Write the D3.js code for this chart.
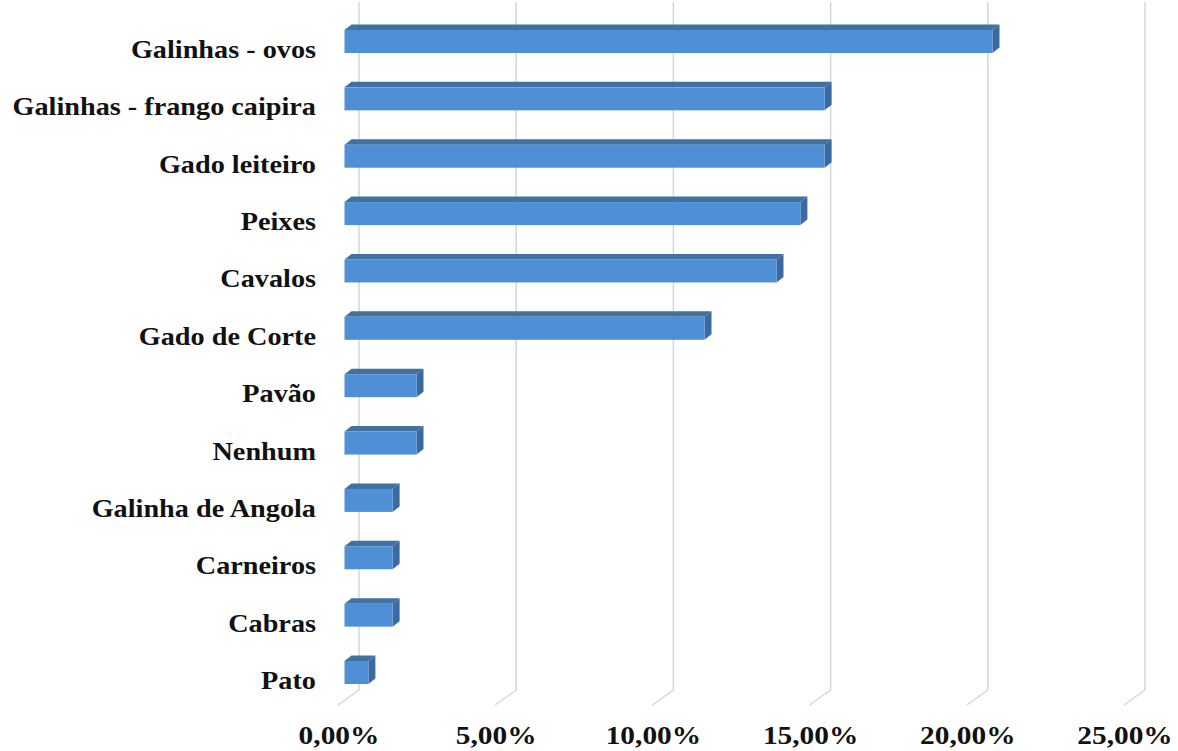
<!DOCTYPE html>
<html>
<head>
<meta charset="utf-8">
<script src="https://cdn.jsdelivr.net/npm/d3@7"></script>
<style>
  body { margin: 0; background: #fff; }
  .g-cat { font-family: "Liberation Serif", "Times New Roman", serif; font-weight: bold; font-size: 25px; fill: #111; }
  .g-tick { font-family: "Liberation Serif", "Times New Roman", serif; font-weight: bold; font-size: 26px; fill: #111; }
</style>
</head>
<body>
<div class="g-chart"></div>
<script>
//Local data
var categories = ["Galinhas - ovos", "Galinhas - frango caipira", "Gado leiteiro", "Peixes", "Cavalos",
                  "Gado de Corte", "Pavão", "Nenhum", "Galinha de Angola", "Carneiros", "Cabras", "Pato"];
var values = [20.61, 15.27, 15.27, 14.50, 13.74, 11.45, 2.29, 2.29, 1.53, 1.53, 1.53, 0.76];
var tickValues = [0, 5, 10, 15, 20, 25];

var width = 1178,
    height = 751;

//3d offsets (floor depth and bar depth)
var floorDx = 21, floorDy = 15;
var barFront = 6.5, barDx = 7, barDy = 5.5;
var barHeight = 23;
var stretch = 1.13;

var svg = d3.select(".g-chart").append("svg")
  .attr("width", width)
  .attr("height", height);

//xScale sits on the front edge of the floor
var xScale = d3.scaleLinear()
  .domain([0, 25])
  .range([338, 1124]);

//yScale gives the top of each bar's front face
var yScale = d3.scalePoint()
  .domain(categories)
  .range([30, 661]);

//Back wall gridlines
svg.selectAll(".g-grid")
  .data(tickValues)
  .enter()
  .append("line")
  .attr("class", "g-grid")
  .attr("x1", function(d) { return xScale(d) + floorDx; })
  .attr("x2", function(d) { return xScale(d) + floorDx; })
  .attr("y1", 2)
  .attr("y2", 690)
  .attr("stroke", "#d6d6d6")
  .attr("stroke-width", 1.5);

//Floor lines
svg.selectAll(".g-floor")
  .data(tickValues)
  .enter()
  .append("line")
  .attr("class", "g-floor")
  .attr("x1", function(d) { return xScale(d) + floorDx; })
  .attr("x2", function(d) { return xScale(d); })
  .attr("y1", 690)
  .attr("y2", 690 + floorDy)
  .attr("stroke", "#d6d6d6")
  .attr("stroke-width", 1.5);

var data = categories.map(function(c, i) { return {category: c, num: values[i]}; });

//Bars
var barGroup = svg.selectAll(".g-bar")
  .data(data)
  .enter()
  .append("g")
  .attr("class", "g-bar");

function pts(arr) { return arr.map(function(p) { return p.join(","); }).join(" "); }

//Top face
barGroup.append("polygon")
  .attr("points", function(d) {
    var xl = xScale(0) + barFront, xr = xScale(d.num) + barFront, yt = yScale(d.category);
    return pts([[xl, yt], [xr, yt], [xr + barDx, yt - barDy], [xl + barDx, yt - barDy]]);
  })
  .attr("fill", "#41719f");

//Right face
barGroup.append("polygon")
  .attr("points", function(d) {
    var xr = xScale(d.num) + barFront, yt = yScale(d.category);
    return pts([[xr, yt], [xr + barDx, yt - barDy], [xr + barDx, yt + barHeight - barDy], [xr, yt + barHeight]]);
  })
  .attr("fill", "#3b6aa0");

//Front face
barGroup.append("rect")
  .attr("x", xScale(0) + barFront)
  .attr("y", function(d) { return yScale(d.category); })
  .attr("width", function(d) { return xScale(d.num) - xScale(0); })
  .attr("height", barHeight)
  .attr("fill", "#4f8fd5");

//Category labels
svg.selectAll(".g-cat")
  .data(categories)
  .enter()
  .append("text")
  .attr("class", "g-cat")
  .attr("text-anchor", "end")
  .attr("transform", function(d) {
    return "translate(316," + (yScale(d) + 28) + ") scale(" + stretch + ",1)";
  })
  .text(function(d) { return d; });

//Tick labels
svg.selectAll(".g-tick")
  .data(tickValues)
  .enter()
  .append("text")
  .attr("class", "g-tick")
  .attr("text-anchor", "middle")
  .attr("transform", function(d) {
    return "translate(" + (xScale(d) + 1) + ",744) scale(" + stretch + ",1)";
  })
  .text(function(d) { return d3.format(".2f")(d).replace(".", ",") + "%"; });
</script>
</body>
</html>
